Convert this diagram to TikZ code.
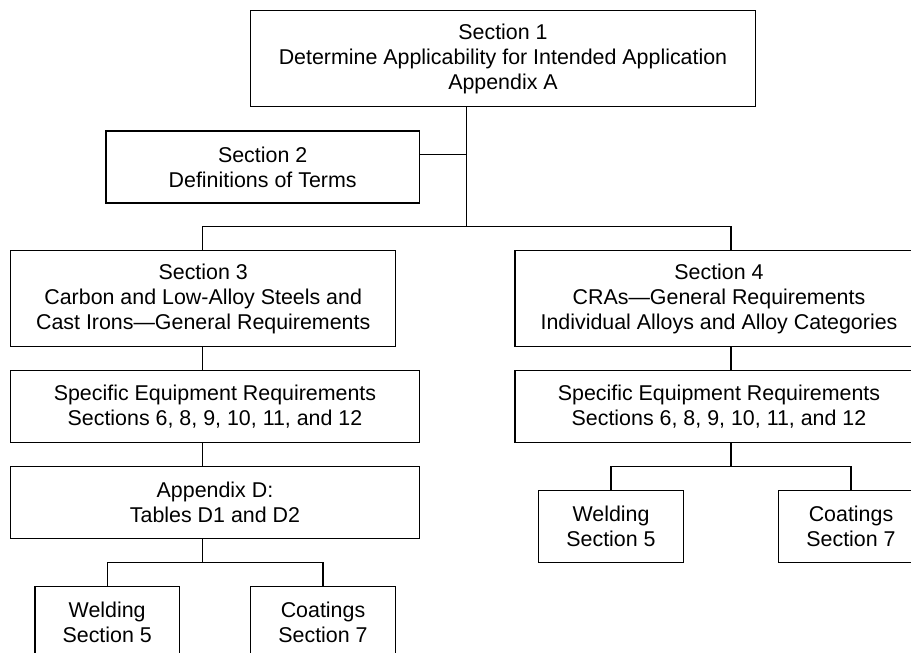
\documentclass[tikz,border=0pt]{standalone}
\usepackage{fontspec}
\setmainfont{Liberation Sans}
\begin{document}
\begin{tikzpicture}[x=1pt,y=-1pt,line width=1.2pt,
  box/.style={draw, line width=1.2pt, align=center, inner sep=0pt,
    font=\fontsize{21.4}{25}\selectfont},
  conn/.style={draw, line width=1.2pt}]
\useasboundingbox (0,0) rectangle (911,653);
\begin{scope}
\clip (0,0) rectangle (911,653);
% boxes
\node[box, minimum width=504.6pt, minimum height=96pt] (s1) at (503,58.7)
  {Section 1\\Determine Applicability for Intended Application\\Appendix A};
\node[box, minimum width=313.3pt, minimum height=72pt] (s2) at (262.65,167)
  {Section 2\\Definitions of Terms};
\node[box, minimum width=385pt, minimum height=96pt] (s3) at (203.2,298.7)
  {Section 3\\Carbon and Low-Alloy Steels and\\Cast Irons\textemdash General Requirements};
\node[box, minimum width=408pt, minimum height=96pt] (s4) at (719,298.7)
  {Section 4\\CRAs\textemdash General Requirements\\Individual Alloys and Alloy Categories};
\node[box, minimum width=408.6pt, minimum height=72pt] (eqL) at (215,406.7)
  {Specific Equipment Requirements\\Sections 6, 8, 9, 10, 11, and 12};
\node[box, minimum width=408pt, minimum height=72pt] (eqR) at (719,406.7)
  {Specific Equipment Requirements\\Sections 6, 8, 9, 10, 11, and 12};
\node[box, minimum width=408.6pt, minimum height=71.6pt] (appD) at (215,502.5)
  {Appendix D:\\Tables D1 and D2};
\node[box, minimum width=144.3pt, minimum height=72pt] (weldL) at (107.2,622.7)
  {Welding\\Section 5};
\node[box, minimum width=144.6pt, minimum height=72pt] (coatL) at (323,622.7)
  {Coatings\\Section 7};
\node[box, minimum width=144.6pt, minimum height=72pt] (weldR) at (611,526.7)
  {Welding\\Section 5};
\node[box, minimum width=144.6pt, minimum height=72pt] (coatR) at (851,526.7)
  {Coatings\\Section 7};
% junction coordinates
\coordinate (t1) at (466.7,154.3);
\coordinate (t2) at (466.7,226.7);
\coordinate (lx) at (202.7,226.7);
\coordinate (rx) at (731,226.7);
\coordinate (lb) at (202.7,562.7);
\coordinate (rb) at (731,466.7);
% connectors
\draw[conn] (s1.south -| t2) -- (t2);
\draw[conn] (s2.east |- t1) -- (t1);
\draw[conn] (s3.north -| lx) -- (lx) -- (rx) -- (s4.north -| rx);
\draw[conn] (s3.south -| lx) -- (eqL.north -| lx);
\draw[conn] (eqL.south -| lx) -- (appD.north -| lx);
\draw[conn] (appD.south -| lb) -- (lb);
\draw[conn] (weldL.north) |- (lb) -| (coatL.north);
\draw[conn] (s4.south -| rx) -- (eqR.north -| rx);
\draw[conn] (eqR.south -| rb) -- (rb);
\draw[conn] (weldR.north) |- (rb) -| (coatR.north);
\end{scope}
\end{tikzpicture}
\end{document}
